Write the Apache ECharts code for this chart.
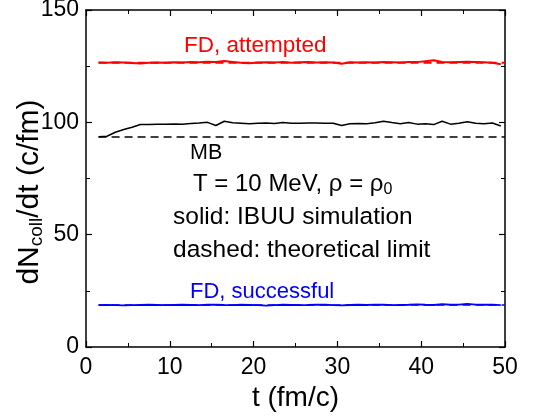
<!DOCTYPE html>
<html><head><meta charset="utf-8">
<script src="https://cdn.jsdelivr.net/npm/echarts@6/dist/echarts.min.js"></script>
<style>html,body{margin:0;padding:0;background:#fff}#c{width:533px;height:417px}</style>
</head><body><div id="c"></div>
<script>
var times = [];
for (var i = 0; i < 49; i++) times.push(1.5 + i);
var attempted = [126.6,126.5,126.7,126.6,126.4,126.2,126.5,126.6,126.5,126.7,126.6,126.8,126.7,127.0,126.9,127.3,126.9,126.5,126.3,126.6,126.7,126.6,126.9,126.5,126.7,126.8,126.6,126.7,126.6,126.1,126.7,126.6,126.7,126.6,126.8,126.7,126.6,126.9,126.8,127.2,127.6,126.9,126.7,126.9,127.0,126.9,126.7,126.5,125.9];
var mb = [93.6,93.8,95.6,96.8,97.8,99.0,99.0,99.1,99.2,99.3,99.2,99.5,99.7,100.0,98.6,100.5,99.8,99.6,99.4,99.6,99.7,99.5,99.9,99.6,99.6,99.7,99.7,99.6,99.6,98.6,99.4,99.5,99.4,99.8,100.5,99.9,99.4,99.9,99.2,99.4,99.0,100.5,99.2,99.6,100.3,99.6,99.4,99.7,98.4];
var successful = [18.6,18.7,18.6,18.5,18.6,18.7,18.8,18.7,18.6,18.7,18.8,18.7,18.6,18.8,18.9,18.7,18.6,18.8,18.7,18.6,18.4,18.6,18.8,18.7,18.6,18.7,18.9,18.8,18.6,18.5,18.7,18.8,18.7,18.9,18.8,18.6,18.7,18.8,19.0,18.8,18.7,19.1,18.8,18.9,19.2,18.9,18.8,18.9,18.6];
var limitStart = 1.5, limitEnd = 50;
var limitAttempted = 126.5, limitMB = 93.5, limitSuccessful = 18.7;

function pairs(v){ return times.map(function(t,i){return [t, v[i]];}); }
function lim(y){ return [[limitStart, y],[limitEnd, y]]; }

var font = 'Liberation Sans, Arial, sans-serif';
var axCommon = {
  axisLine:{show:true, onZero:false, lineStyle:{color:'#000', width:1.5}},
  axisTick:{show:true, inside:true, length:6, lineStyle:{color:'#000', width:1.2}},
  minorTick:{show:true, splitNumber:2, length:4, lineStyle:{color:'#000', width:1}},
  splitLine:{show:false}
};
var chart = echarts.init(document.getElementById('c'));
chart.setOption({
  animation:false,
  grid:{left:86, right:28, top:10, bottom:70, containLabel:false, outerBoundsMode:'none'},
  xAxis:[
    Object.assign({type:'value', min:0, max:50, interval:10, position:'bottom',
      axisLabel:{color:'#000', fontSize:23, fontFamily:font, margin:9},
      name:'t (fm/c)', nameLocation:'middle', nameGap:37,
      nameTextStyle:{color:'#000', fontSize:28, fontFamily:font}}, axCommon),
    Object.assign({type:'value', min:0, max:50, interval:10, position:'top',
      axisLabel:{show:false}}, axCommon)
  ],
  yAxis:[
    Object.assign({type:'value', min:0, max:150, interval:50, position:'left',
      axisLabel:{color:'#000', fontSize:23, fontFamily:font, margin:7}}, axCommon),
    Object.assign({type:'value', min:0, max:150, interval:50, position:'right',
      axisLabel:{show:false}}, axCommon)
  ],
  series:[
    {type:'line', data:pairs(attempted), symbol:'none', lineStyle:{color:'#ff0000', width:2}},
    {type:'line', data:lim(limitAttempted), symbol:'none', lineStyle:{color:'#ff0000', width:2, type:[8,5]}},
    {type:'line', data:pairs(mb), symbol:'none', lineStyle:{color:'#000', width:1.5}},
    {type:'line', data:lim(limitMB), symbol:'none', lineStyle:{color:'#000', width:1.5, type:[8,5]}},
    {type:'line', data:pairs(successful), symbol:'none', lineStyle:{color:'#0000ff', width:1.8}},
    {type:'line', data:lim(limitSuccessful), symbol:'none', lineStyle:{color:'#0000ff', width:1.5, type:[8,5]}}
  ],
  graphic:[
    {type:'text', x:30, y:192, rotation:Math.PI/2,
      style:{text:'dN{sub|coll}/dt (c/fm)', fill:'#000', font:'30px '+font, align:'center', verticalAlign:'middle',
        rich:{sub:{fontSize:19, fontFamily:font, fill:'#000', padding:[14,0,0,0]}}}},
    {type:'text', left:184, top:34, style:{text:'FD, attempted', fill:'#ff0000', font:'22.5px '+font}},
    {type:'text', left:190, top:142, style:{text:'MB', fill:'#000', font:'21.5px '+font}},
    {type:'text', left:193, top:172, style:{text:'T = 10 MeV, \u03c1 = \u03c1{s|0}', fill:'#000', font:'24px '+font,
      rich:{s:{fontSize:16, fontFamily:font, fill:'#000', padding:[12,0,0,0]}}}},
    {type:'text', left:173, top:205, style:{text:'solid: IBUU simulation', fill:'#000', font:'24.5px '+font}},
    {type:'text', left:173, top:238, style:{text:'dashed: theoretical limit', fill:'#000', font:'24.5px '+font}},
    {type:'text', left:190, top:281, style:{text:'FD, successful', fill:'#0000ff', font:'22px '+font}}
  ]
});
</script></body></html>
